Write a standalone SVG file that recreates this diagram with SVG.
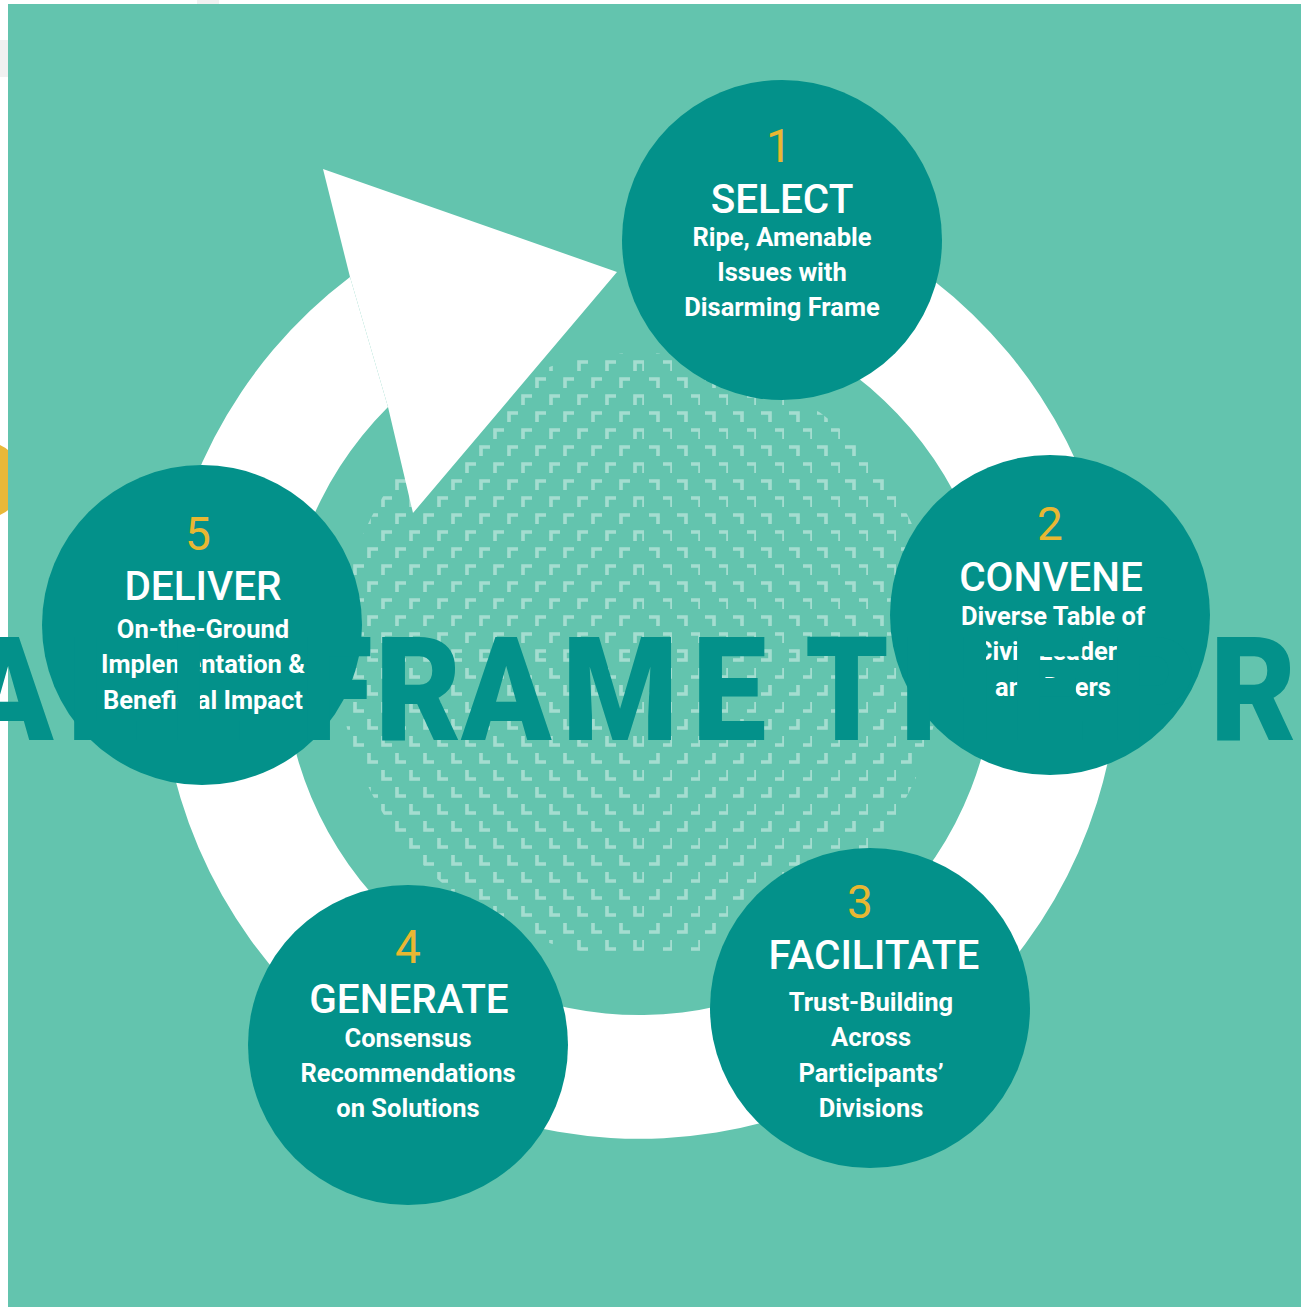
<svg xmlns="http://www.w3.org/2000/svg" width="1301" height="1307" viewBox="0 0 1301 1307">
<style>
.node circle{fill:#03918a}
.num{font-family:Roboto,"Liberation Sans",sans-serif;font-size:46px;fill:#e9b732;text-anchor:middle}
.ttl{font-family:Roboto,"Liberation Sans",sans-serif;font-weight:500;font-size:40.5px;fill:#fff;text-anchor:middle}
.body{font-family:Roboto,"Liberation Sans",sans-serif;font-weight:700;font-size:25.5px;fill:#fff;text-anchor:middle}
.big{font-family:Roboto,"Liberation Sans",sans-serif;font-weight:900;font-size:145px;fill:#03918a}
.chev{fill:none;stroke:#ffffff;stroke-opacity:0.42;stroke-width:3.6}
</style>
<defs>
<pattern id="pUL" width="28" height="34" patternUnits="userSpaceOnUse"><path class="chev" d="M5 14V5H14M19 31V22H28"/></pattern>
<pattern id="pUR" width="28" height="34" patternUnits="userSpaceOnUse"><path class="chev" d="M5 5H14V14M19 22H28V31"/></pattern>
<pattern id="pLL" width="28" height="34" patternUnits="userSpaceOnUse"><path class="chev" d="M5 5V14H14M19 22V31H28"/></pattern>
<pattern id="pLR" width="28" height="34" patternUnits="userSpaceOnUse"><path class="chev" d="M5 14H14V5M19 31H28V22"/></pattern>
<clipPath id="patClip"><circle cx="640" cy="655" r="302"/></clipPath>
</defs>
<rect width="1301" height="1307" fill="#ffffff"/>
<rect x="0" y="40" width="8" height="37" fill="#f1f1f1"/>
<rect x="197" y="0" width="22" height="4" fill="#f1f1f1"/>
<circle cx="-15" cy="480" r="38" fill="#e9b838"/>
<rect x="8" y="4" width="1293" height="1303" fill="#63c4ae"/>
<g id="pattern" clip-path="url(#patClip)">
<rect x="330" y="345" width="310" height="310" fill="url(#pUL)"/>
<rect x="640" y="345" width="310" height="310" fill="url(#pUR)"/>
<rect x="330" y="655" width="310" height="310" fill="url(#pLL)"/>
<rect x="640" y="655" width="310" height="310" fill="url(#pLR)"/>
</g>
<g id="connectors">
<path id="ring" d="M350 277A479.5 479.5 0 1 0 793 205L754 322A356 356 0 1 1 388 407Z" fill="#ffffff"/>
<polygon id="arrowhead" points="350,277 323,169 617,272 413,513 388,407" fill="#ffffff"/>
</g>
<g id="node1" class="node">
<circle cx="782" cy="240" r="160"/>
<text class="num" x="779" y="162">1</text>
<text class="ttl" x="782" y="213">SELECT</text>
<text class="body" x="782" y="246">Ripe, Amenable</text>
<text class="body" x="782" y="281">Issues with</text>
<text class="body" x="782" y="316">Disarming Frame</text>
</g>
<g id="node2" class="node">
<circle cx="1050" cy="615" r="160"/>
<text class="num" x="1050" y="540">2</text>
<text class="ttl" x="1051" y="591">CONVENE</text>
<text class="body" x="1053" y="625">Diverse Table of</text>
<text class="body" x="1053" y="660">Civic Leaders</text>
<text class="body" x="1053" y="696">and Doers</text>
</g>
<g id="node3" class="node">
<circle cx="870" cy="1008" r="160"/>
<text class="num" x="860" y="918">3</text>
<text class="ttl" x="874" y="969">FACILITATE</text>
<text class="body" x="871" y="1011">Trust-Building</text>
<text class="body" x="871" y="1046">Across</text>
<text class="body" x="871" y="1082">Participants’</text>
<text class="body" x="871" y="1117">Divisions</text>
</g>
<g id="node4" class="node">
<circle cx="408" cy="1045" r="160"/>
<text class="num" x="408" y="963">4</text>
<text class="ttl" x="409" y="1013">GENERATE</text>
<text class="body" x="408" y="1047">Consensus</text>
<text class="body" x="408" y="1082">Recommendations</text>
<text class="body" x="408" y="1117">on Solutions</text>
</g>
<g id="node5" class="node">
<circle cx="202" cy="625" r="160"/>
<text class="num" x="198" y="550">5</text>
<text class="ttl" x="203" y="600">DELIVER</text>
<text class="body" x="203" y="638">On-the-Ground</text>
<text class="body" x="203" y="673">Implementation &amp;</text>
<text class="body" x="203" y="709">Beneficial Impact</text>
</g>
<text id="bigtext" class="big" transform="scale(0.915,1)" x="-40.4 73.2 185.8 289.6 327.9 409.8 503.8 614.2 756.3 841.5 879.8 983.6 1103.8 1185.8 1213.1 1322.4" y="740">ALL FRAME THE PR</text>
</svg>
